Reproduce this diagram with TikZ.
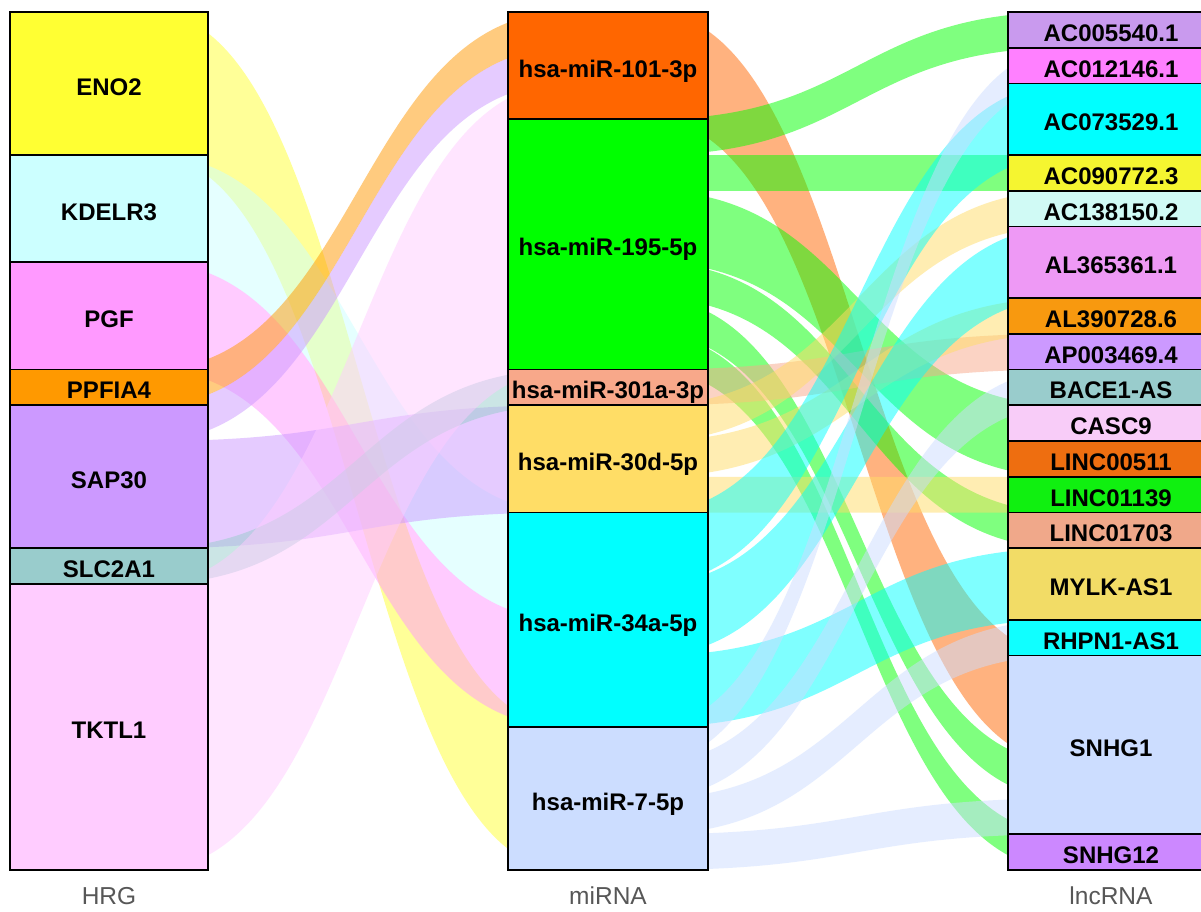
\documentclass[tikz,border=0pt]{standalone}
\usepackage{fontspec}
\setmainfont{Liberation Sans}
\begin{document}
\begin{tikzpicture}[x=1pt,y=-1pt,
  box/.style={draw=black, line width=1.7pt, inner sep=0pt, text height=23pt, text depth=0pt, font=\fontsize{24}{26}\selectfont\bfseries, text=black},
  lbox/.style={box, minimum width=198pt},
  mbox/.style={box, minimum width=200pt},
  rbox/.style={box, minimum width=206pt},
  axlab/.style={font=\fontsize{24.5}{28}\selectfont, text=black!66}]
\useasboundingbox (0,0) rectangle (1201,911);
\fill[white] (0,0) rectangle (1201,911);
\definecolor{cENO}{HTML}{FFFF33}
\definecolor{cKDE}{HTML}{CCFFFF}
\definecolor{cPGF}{HTML}{FF99FF}
\definecolor{cPPF}{HTML}{FF9900}
\definecolor{cSAP}{HTML}{CC99FF}
\definecolor{cSLC}{HTML}{99CCCC}
\definecolor{cTKT}{HTML}{FFCCFF}
\definecolor{cM101}{HTML}{FF6600}
\definecolor{cM195}{HTML}{00FF00}
\definecolor{cM301}{HTML}{F8A88A}
\definecolor{cM30d}{HTML}{FFDD66}
\definecolor{cM34a}{HTML}{00FFFF}
\definecolor{cM7}{HTML}{CCDDFF}
\definecolor{cR1}{HTML}{C99AEE}
\definecolor{cR2}{HTML}{FF80FF}
\definecolor{cR3}{HTML}{00FFFF}
\definecolor{cR4}{HTML}{F5F530}
\definecolor{cR5}{HTML}{D0FAF5}
\definecolor{cR6}{HTML}{EE99F5}
\definecolor{cR7}{HTML}{F8990F}
\definecolor{cR8}{HTML}{CC99FF}
\definecolor{cR9}{HTML}{99CCCC}
\definecolor{cR10}{HTML}{F8CCF8}
\definecolor{cR11}{HTML}{EE6E10}
\definecolor{cR12}{HTML}{10F010}
\definecolor{cR13}{HTML}{F0A88A}
\definecolor{cR14}{HTML}{F2DC66}
\definecolor{cR15}{HTML}{10FFFF}
\definecolor{cR16}{HTML}{CCDDFF}
\definecolor{cR17}{HTML}{CC88FF}
\newcommand{\band}[6]{%
  \pgfmathsetmacro{\bya}{12+35.75*#4}%
  \pgfmathsetmacro{\byb}{12+35.75*#5}%
  \pgfmathsetmacro{\bh}{35.75*#6}%
  \pgfmathsetmacro{\bxm}{(#2+#3)/2}%
  \fill[#1, fill opacity=0.5] (#2,\bya) .. controls (\bxm,\bya) and (\bxm,\byb) .. (#3,\byb)
    -- (#3,\byb+\bh) .. controls (\bxm,\byb+\bh) and (\bxm,\bya+\bh) .. (#2,\bya+\bh) -- cycle;}
% left -> middle flows (coloured by HRG)
\band{cENO}{150}{566}{0}{20}{4}
\band{cKDE}{150}{566}{4}{14}{3}
\band{cPGF}{150}{566}{7}{17}{3}
\band{cPPF}{150}{566}{10}{0}{1}
\band{cSAP}{150}{566}{11}{1}{1}
\band{cSAP}{150}{566}{12}{11}{3}
\band{cSLC}{150}{566}{15}{10}{1}
\band{cTKT}{150}{566}{16}{2}{8}
% middle -> right flows (coloured by miRNA)
\band{cM101}{650}{1066}{0}{18}{3}
\band{cM195}{650}{1066}{3}{0}{1}
\band{cM195}{650}{1066}{4}{4}{1}
\band{cM195}{650}{1066}{5}{11}{2}
\band{cM195}{650}{1066}{7}{14}{1}
\band{cM195}{650}{1066}{8}{21}{1}
\band{cM195}{650}{1066}{9}{23}{1}
\band{cM301}{650}{1066}{10}{9}{1}
\band{cM30d}{650}{1066}{11}{5}{1}
\band{cM30d}{650}{1066}{12}{8}{1}
\band{cM30d}{650}{1066}{13}{13}{1}
\band{cM34a}{650}{1066}{14}{2}{2}
\band{cM34a}{650}{1066}{16}{6}{2}
\band{cM34a}{650}{1066}{18}{15}{2}
\band{cM7}{650}{1066}{20}{1}{1}
\band{cM7}{650}{1066}{21}{10}{1}
\band{cM7}{650}{1066}{22}{17}{1}
\band{cM7}{650}{1066}{23}{22}{1}
% left strata
\node[lbox, fill=cENO, minimum height=143pt] (eno2) at (109,83.5) {ENO2};
\node[lbox, fill=cKDE, minimum height=107.25pt] (kdelr3) at (109,208.6) {KDELR3};
\node[lbox, fill=cPGF, minimum height=107.25pt] (pgf) at (109,315.9) {PGF};
\node[lbox, fill=cPPF, minimum height=35.75pt] (ppfia4) at (109,387.4) {PPFIA4};
\node[lbox, fill=cSAP, minimum height=143pt] (sap30) at (109,476.8) {SAP30};
\node[lbox, fill=cSLC, minimum height=35.75pt] (slc2a1) at (109,566.1) {SLC2A1};
\node[lbox, fill=cTKT, minimum height=286pt] (tktl1) at (109,727) {TKTL1};
% middle strata
\node[mbox, fill=cM101, minimum height=107.25pt] (m101) at (608,65.6) {hsa-miR-101-3p};
\node[mbox, fill=cM195, minimum height=250.25pt] (m195) at (608,244.4) {hsa-miR-195-5p};
\node[mbox, fill=cM301, minimum height=35.75pt] (m301) at (608,387.4) {hsa-miR-301a-3p};
\node[mbox, fill=cM30d, minimum height=107.25pt] (m30d) at (608,458.9) {hsa-miR-30d-5p};
\node[mbox, fill=cM34a, minimum height=214.5pt] (m34a) at (608,619.8) {hsa-miR-34a-5p};
\node[mbox, fill=cM7, minimum height=143pt] (m7) at (608,798.5) {hsa-miR-7-5p};
% right strata
\node[rbox, fill=cR1, minimum height=35.75pt] (r1) at (1111,29.9) {AC005540.1};
\node[rbox, fill=cR2, minimum height=35.75pt] (r2) at (1111,65.6) {AC012146.1};
\node[rbox, fill=cR3, minimum height=71.5pt] (r3) at (1111,119.25) {AC073529.1};
\node[rbox, fill=cR4, minimum height=35.75pt] (r4) at (1111,172.9) {AC090772.3};
\node[rbox, fill=cR5, minimum height=35.75pt] (r5) at (1111,208.6) {AC138150.2};
\node[rbox, fill=cR6, minimum height=71.5pt] (r6) at (1111,262.25) {AL365361.1};
\node[rbox, fill=cR7, minimum height=35.75pt] (r7) at (1111,315.9) {AL390728.6};
\node[rbox, fill=cR8, minimum height=35.75pt] (r8) at (1111,351.6) {AP003469.4};
\node[rbox, fill=cR9, minimum height=35.75pt] (r9) at (1111,387.4) {BACE1-AS};
\node[rbox, fill=cR10, minimum height=35.75pt] (r10) at (1111,423.1) {CASC9};
\node[rbox, fill=cR11, minimum height=35.75pt] (r11) at (1111,458.9) {LINC00511};
\node[rbox, fill=cR12, minimum height=35.75pt] (r12) at (1111,494.6) {LINC01139};
\node[rbox, fill=cR13, minimum height=35.75pt] (r13) at (1111,530.4) {LINC01703};
\node[rbox, fill=cR14, minimum height=71.5pt] (r14) at (1111,584) {MYLK-AS1};
\node[rbox, fill=cR15, minimum height=35.75pt] (r15) at (1111,637.6) {RHPN1-AS1};
\node[rbox, fill=cR16, minimum height=178.75pt] (r16) at (1111,745) {SNHG1};
\node[rbox, fill=cR17, minimum height=35.75pt] (r17) at (1111,852.1) {SNHG12};
% axis labels
\node[axlab] (axh) at (109,896) {HRG};
\node[axlab] (axm) at (608,896) {miRNA};
\node[axlab] (axl) at (1111,896) {lncRNA};
\end{tikzpicture}
\end{document}
